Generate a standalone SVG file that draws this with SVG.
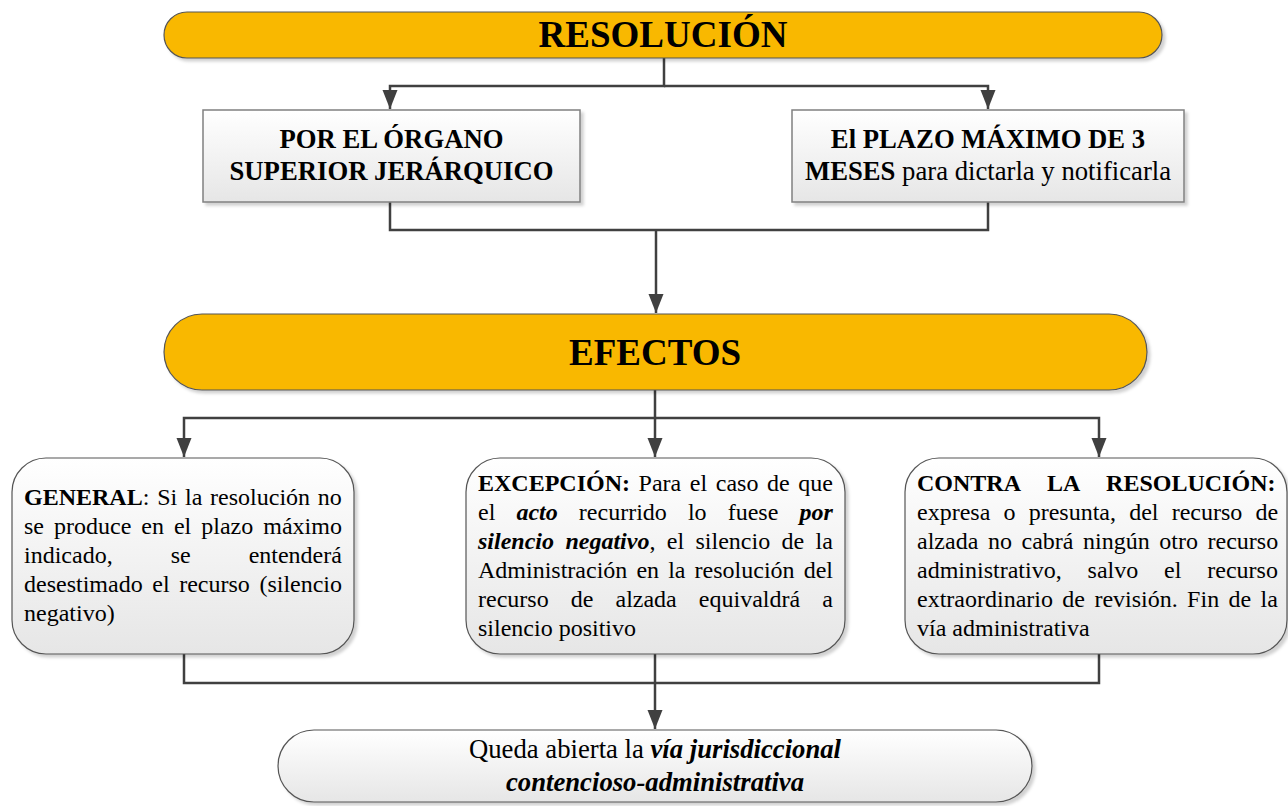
<svg xmlns="http://www.w3.org/2000/svg" width="1288" height="806" viewBox="0 0 1288 806">
<defs>
<linearGradient id="gw" x1="0" y1="0" x2="0" y2="1">
<stop offset="0" stop-color="#ffffff"/>
<stop offset="1" stop-color="#e6e6e6"/>
</linearGradient>
<filter id="sh" x="-5%" y="-10%" width="115%" height="130%">
<feDropShadow dx="3" dy="3" stdDeviation="1.5" flood-color="#000" flood-opacity="0.18"/>
</filter>
<marker id="ar" markerUnits="userSpaceOnUse" markerWidth="20" markerHeight="18" viewBox="0 0 20 18" refX="19" refY="9" orient="auto">
<path d="M0,1.5 L19,9 L0,16.5 Z" fill="#404040"/>
</marker>
<style>
.pill{fill:#f9b800;stroke:#555;stroke-width:1.2}
.box{fill:url(#gw);stroke:#808080;stroke-width:1.5}
.rbox{fill:url(#gw);stroke:#555;stroke-width:1.2}
.con{fill:none;stroke:#404040;stroke-width:2.5}
text{font-family:"Liberation Serif","Times New Roman",serif;fill:#000}
.t1{font-size:37px;font-weight:bold}
.t2{font-size:26.7px}
.t3{font-size:24px}
.b{font-weight:bold}
.bi{font-weight:bold;font-style:italic}
</style>
</defs>
<g id="connectors">
<path class="con" d="M664,58 V86 H390 V109" marker-end="url(#ar)"/>
<path class="con" d="M664,86 H988 V109" marker-end="url(#ar)"/>
<path class="con" d="M390,202 V230 H988 V202"/>
<path class="con" d="M656,230 V313" marker-end="url(#ar)"/>
<path class="con" d="M655,390 V418 H184 V457" marker-end="url(#ar)"/>
<path class="con" d="M655,418 H1099 V457" marker-end="url(#ar)"/>
<path class="con" d="M655,418 V457" marker-end="url(#ar)"/>
<path class="con" d="M184,654 V683 H1099 V654"/>
<path class="con" d="M655,654 V729" marker-end="url(#ar)"/>
</g>
<g id="resolucion">
<rect class="pill" x="164" y="12" width="998" height="46" rx="23" filter="url(#sh)"/>
<text class="t1" x="663" y="47" text-anchor="middle">RESOLUCIÓN</text>
</g>
<g id="organo">
<rect class="box" x="203" y="110" width="377" height="92" filter="url(#sh)"/>
<text class="t2 b" x="391.5" y="148" text-anchor="middle">POR EL ÓRGANO</text>
<text class="t2 b" x="391.5" y="180" text-anchor="middle">SUPERIOR JERÁRQUICO</text>
</g>
<g id="plazo">
<rect class="box" x="792" y="110" width="392" height="92" filter="url(#sh)"/>
<text class="t2 b" x="988" y="148" text-anchor="middle">El PLAZO MÁXIMO DE 3</text>
<text class="t2" x="988" y="180" text-anchor="middle"><tspan class="b">MESES</tspan> para dictarla y notificarla</text>
</g>
<g id="efectos">
<rect class="pill" x="164" y="314" width="983" height="76" rx="38" filter="url(#sh)"/>
<text class="t1" x="655" y="365" text-anchor="middle">EFECTOS</text>
</g>
<g id="general">
<rect class="rbox" x="12" y="458" width="342" height="196" rx="34" filter="url(#sh)"/>
<text class="t3" x="24" y="505" word-spacing="1.8"><tspan class="b">GENERAL</tspan>: Si la resolución no</text>
<text class="t3" x="24" y="534" word-spacing="4">se produce en el plazo máximo</text>
<text class="t3" x="24" y="563" word-spacing="52">indicado, se entenderá</text>
<text class="t3" x="24" y="592" word-spacing="3.6">desestimado el recurso (silencio</text>
<text class="t3" x="24" y="621">negativo)</text>
</g>
<g id="excepcion">
<rect class="rbox" x="466" y="458" width="379" height="196" rx="34" filter="url(#sh)"/>
<text class="t3" x="478" y="491" word-spacing="2.6"><tspan class="b">EXCEPCIÓN:</tspan> Para el caso de que</text>
<text class="t3" x="478" y="520" word-spacing="15.1">el <tspan class="bi">acto</tspan> recurrido lo fuese <tspan class="bi">por</tspan></text>
<text class="t3" x="478" y="549" word-spacing="5.4"><tspan class="bi">silencio negativo</tspan>, el silencio de la</text>
<text class="t3" x="478" y="578" word-spacing="3.1">Administración en la resolución del</text>
<text class="t3" x="478" y="607" word-spacing="16.1">recurso de alzada equivaldrá a</text>
<text class="t3" x="478" y="636">silencio positivo</text>
</g>
<g id="contra">
<rect class="rbox" x="905" y="458" width="382" height="196" rx="34" filter="url(#sh)"/>
<text class="t3 b" x="917" y="491" word-spacing="21.2">CONTRA LA RESOLUCIÓN:</text>
<text class="t3" x="917" y="520" word-spacing="7.2">expresa o presunta, del recurso de</text>
<text class="t3" x="917" y="549" word-spacing="3.6">alzada no cabrá ningún otro recurso</text>
<text class="t3" x="917" y="578" word-spacing="19.9">administrativo, salvo el recurso</text>
<text class="t3" x="917" y="607" word-spacing="3.4">extraordinario de revisión. Fin de la</text>
<text class="t3" x="917" y="636">vía administrativa</text>
</g>
<g id="via">
<rect class="rbox" x="278" y="730" width="754" height="72" rx="36" filter="url(#sh)"/>
<text class="t2" x="655" y="758" text-anchor="middle">Queda abierta la <tspan class="bi">vía jurisdiccional</tspan></text>
<text class="t2 bi" x="655" y="791" text-anchor="middle">contencioso-administrativa</text>
</g>
</svg>
